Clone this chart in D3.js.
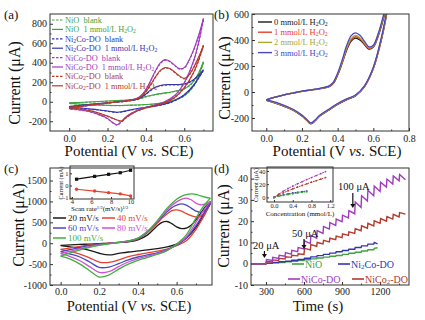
<!DOCTYPE html>
<html><head><meta charset="utf-8">
<script src="https://cdn.jsdelivr.net/npm/d3@7"></script>
<style>body{margin:0;background:#fff}svg{display:block}</style>
</head><body><svg id="c" width="425" height="320"></svg>
<script>
// ---------- DATA ----------
// potential grids (V vs SCE): anodic (forward) and cathodic (reverse) sweeps
const FE = [0,0.05,0.1,0.15,0.2,0.25,0.3,0.35,0.375,0.4,0.425,0.45,0.475,0.5,0.525,0.55,0.575,0.6,0.625,0.65,0.675,0.7];
const RE = [0.7,0.675,0.65,0.6,0.55,0.5,0.45,0.4,0.35,0.3,0.275,0.25,0.225,0.2,0.15,0.1,0.05,0];
// (a) currents, μA
const niO_blank_f = [-15,-10,-5,0,5,10,15,25,35,50,62,72,80,88,95,105,115,130,160,210,290,400];
const niO_blank_r = [400,260,160,60,15,-10,-22,-30,-35,-38,-40,-40,-40,-38,-35,-30,-25,-18];
const niO_h2o2_f = [-12,-7,-2,3,8,13,18,28,38,53,65,75,83,91,98,108,118,134,165,215,295,410];
const niO_h2o2_r = [410,265,165,62,17,-8,-20,-28,-33,-36,-38,-38,-38,-36,-33,-28,-23,-16];
const ni2co_blank_f = [-50,-40,-30,-20,-12,-5,5,20,40,75,115,145,162,170,172,172,172,178,195,225,265,320];
const ni2co_blank_r = [320,240,170,70,10,-25,-45,-60,-75,-95,-105,-110,-105,-98,-85,-75,-65,-55];
const ni2co_h2o2_f = [-48,-38,-28,-18,-10,-3,8,23,44,80,120,150,167,175,177,177,177,183,200,230,272,328];
const ni2co_h2o2_r = [328,245,174,73,13,-22,-42,-57,-72,-92,-102,-107,-102,-95,-82,-72,-62,-52];
const nico_blank_f = [-70,-55,-40,-28,-15,-3,10,30,60,120,210,310,390,425,410,370,335,345,420,530,670,840];
const nico_blank_r = [840,600,420,190,60,0,-35,-60,-95,-150,-200,-240,-215,-175,-130,-100,-85,-75];
const nico_h2o2_f = [-68,-53,-38,-26,-13,-1,12,33,64,126,218,318,398,432,416,376,340,350,428,540,682,855];
const nico_h2o2_r = [855,610,428,195,64,3,-32,-57,-92,-147,-197,-236,-211,-171,-127,-97,-82,-72];
const nico2_blank_f = [-60,-48,-36,-25,-14,-3,8,25,50,100,170,250,315,345,335,300,260,235,270,350,450,570];
const nico2_blank_r = [570,420,300,140,40,-10,-40,-65,-100,-160,-200,-190,-170,-150,-115,-90,-75,-65];
const nico2_h2o2_f = [-58,-46,-34,-23,-12,-1,10,28,54,106,176,256,321,350,340,305,265,240,276,357,458,580];
const nico2_h2o2_r = [580,428,306,144,43,-7,-37,-62,-97,-157,-197,-187,-167,-147,-112,-87,-72,-62];
const legendA = ["NiO  blank","NiO  1 mmol/L H{_2}O{_2}","Ni{_2}Co-DO  blank","Ni{_2}Co-DO  1 mmol/L H{_2}O{_2}","NiCo-DO  blank","NiCo-DO  1 mmol/L H{_2}O{_2}","NiCo{_2}-DO  blank","NiCo{_2}-DO  1 mmol/L H{_2}O{_2}"];
// (b) NiCo-DO in 0-3 mmol/L H2O2, μA
const b0_f = [-60,-40,-22,-8,5,15,25,40,65,130,220,320,390,415,400,365,330,345,420,530,660,800];
const b0_r = [800,600,430,180,40,-30,-60,-95,-140,-185,-220,-245,-215,-185,-140,-110,-85,-65];
const b1_f = [-60,-40,-22,-8,5,15,26,42,68,134,226,328,400,425,410,372,335,350,426,537,668,810];
const b1_r = [810,605,434,183,42,-28,-58,-93,-138,-183,-218,-243,-213,-183,-138,-108,-83,-63];
const b2_f = [-60,-40,-22,-8,5,16,27,43,70,138,232,336,410,435,418,378,340,354,432,544,676,820];
const b2_r = [820,612,440,186,44,-26,-56,-91,-136,-181,-216,-241,-211,-181,-136,-106,-81,-61];
const b3_f = [-60,-40,-22,-8,6,17,28,45,74,145,245,355,432,455,436,392,348,360,440,555,690,840];
const b3_r = [840,625,448,190,47,-23,-53,-88,-133,-178,-213,-238,-208,-178,-133,-103,-78,-58];
const legendB = ["0 mmol/L H{_2}O{_2}","1 mmol/L H{_2}O{_2}","2 mmol/L H{_2}O{_2}","3 mmol/L H{_2}O{_2}"];
// (c) scan-rate CVs, μA
const FEc = [0,0.05,0.1,0.15,0.2,0.25,0.3,0.35,0.4,0.45,0.5,0.525,0.55,0.575,0.6,0.625,0.65,0.675,0.7,0.725,0.75,0.775];
const REc = [0.775,0.75,0.725,0.7,0.65,0.6,0.55,0.5,0.45,0.4,0.35,0.3,0.25,0.2,0.15,0.1,0.05,0];
const c20_f = [-50,-40,-30,-20,-10,0,15,35,80,200,420,500,520,470,390,350,360,430,560,720,880,1000];
const c20_r = [1000,780,560,380,120,-20,-90,-130,-160,-185,-210,-245,-280,-240,-170,-120,-90,-60];
const c40_f = [-150,-110,-75,-45,-20,0,20,45,100,260,480,600,700,780,800,770,710,660,630,650,760,950];
const c40_r = [950,720,520,330,60,-60,-140,-190,-230,-270,-320,-400,-460,-450,-350,-260,-200,-150];
const c60_f = [-200,-150,-100,-60,-30,-5,20,50,110,270,500,630,750,850,910,940,910,840,770,740,800,950];
const c60_r = [950,780,600,420,120,-40,-160,-230,-280,-330,-400,-490,-570,-580,-450,-330,-260,-200];
const c80_f = [-250,-190,-130,-80,-40,-10,20,55,120,280,520,660,790,900,990,1050,1080,1040,960,920,940,1000];
const c80_r = [1000,850,680,500,150,-30,-170,-250,-310,-370,-450,-560,-680,-700,-560,-420,-320,-250];
const c100_f = [-310,-230,-160,-100,-50,-15,20,55,120,290,540,690,830,950,1050,1120,1160,1180,1170,1130,1100,1080];
const c100_r = [1080,950,790,600,200,-20,-180,-270,-340,-410,-500,-620,-760,-810,-660,-500,-380,-310];
const legendC = ["20 mV/s","40 mV/s","60 mV/s","80 mV/s","100 mV/s"];
// (c) inset: peak current (mA) vs sqrt(scan rate)
const sqrtRate = [4.47,6.32,7.75,8.94,10];
const anodicPeak = [0.52,0.75,0.92,1.05,1.25];
const cathodicPeak = [-0.3,-0.45,-0.58,-0.68,-0.85];
// (d) amperometric response, μA
const tLong = [300,350,400,450,500,550,600,650,700,750,800,850,900,950,1000,1050,1100,1150,1200,1250,1300,1350];
const tShort = [300,350,400,450,500,550,600,650,700,750,800,850,900,950,1000,1050,1100,1150];
const nicoLevel = [1.5,2.5,3.5,4.5,5.7,7,9.5,12,14.3,16.3,18,19.8,21.5,23.5,26.5,29.5,32,34,36,37.5,39,40.5];
const nicoPeak = [2,3,4,5.2,6.3,7.6,10.8,13.3,15.6,17.5,19.3,21,22.8,25,29,32,34.5,36.5,38.3,39.8,41.3,42];
const nico2Level = [0.8,1.5,2.2,3,3.7,4.4,6.5,8.2,9.3,10.3,11.3,12.3,13.3,14.3,15.5,16.7,17.8,19,20,21,22,23];
const nico2Peak = [1,1.8,2.5,3.3,4,4.7,7.2,9,10,11,12,13,14,15,16.5,17.8,19,20.2,21.2,22.2,23.2,24];
const ni2coLevel = [0.3,0.6,0.9,1.2,1.6,2,2.6,3.2,3.8,4.4,5,5.6,6.2,6.8,7.6,8.4,9.2,10];
const nioLevel = [0.2,0.4,0.6,0.9,1.2,1.5,1.9,2.3,2.7,3.1,3.5,3.9,4.4,4.9,5.4,6,6.6,7.2];
const endLong = [1400, 39.5], endNico2 = [1400, 23.3], endNi2co = [1180, 9.3], endNio = [1180, 7.5];
const legendD = ["NiO","Ni{_2}Co-DO","NiCo-DO","NiCo{_2}-DO"];
// (d) inset: current vs concentration
const concLong = [0,0.1,0.2,0.3,0.4,0.5,0.6,0.7,0.8,0.9,1.0,1.1];
const concShort = [0,0.1,0.2,0.3,0.4,0.5,0.6,0.7];
const nicoCal = [0,5,9.5,13.5,17,20.5,23.8,27,30,33,36,39];
const nico2Cal = [0,3.8,7,10,12.8,15.5,18,20.5,23,25.3,27.6,30];
const ni2coCal = [0,2,3.8,5.3,6.6,7.7,8.7,9.6];
const nioCal = [0,1.6,3,4.3,5.5,6.6,7.6,8.5];

// ---------- DRAWING ----------
const SERIF = '"Liberation Serif","Times New Roman",serif';
const svg = d3.select('#c');
const COL = {green:'#3fa33f', blue:'#3434b0', purple:'#a03cbc', brown:'#b33a2c',
  black:'#1a1a1a', red:'#e8402c', olive:'#aaa834', bblue:'#4a46c4', magenta:'#d052d0', cgreen:'#3db03d'};
let clipN = 0; const frames = [];

function rich(t, s){
  s.split(/(\{[^}]*\})/).forEach(p=>{
    if(!p) return;
    if(p[0]==='{'){
      const k=p[1], c=p.slice(2,-1);
      const ts=t.append('tspan').text(c);
      if(k==='_') ts.attr('font-size','70%').attr('baseline-shift','-15%');
      else if(k==='^') ts.attr('font-size','65%').attr('baseline-shift','super');
      else if(k==='*') ts.attr('font-style','italic');
    } else t.append('tspan').text(p);
  });
  return t;
}
function txt(x,y,s,o={}){
  const t=svg.append('text').attr('x',x).attr('y',y).attr('font-family',SERIF)
    .attr('font-size',o.fs||10).attr('fill',o.fill||'#111').attr('text-anchor',o.anchor||'start')
    .style('white-space','pre');
  if(o.rot) t.attr('transform',`rotate(${o.rot},${x},${y})`);
  return rich(t,s);
}
function panel(o){
  const x=d3.scaleLinear().domain(o.xd).range([o.L,o.R]);
  const y=d3.scaleLinear().domain(o.yd).range([o.B,o.T]);
  const cid='cl'+(clipN++);
  svg.append('clipPath').attr('id',cid).append('rect').attr('x',o.L).attr('y',o.T).attr('width',o.R-o.L).attr('height',o.B-o.T);
  const g=svg.append('g').attr('font-family',SERIF);
  const tk=o.tk||3, fs=o.fs||10;
  g.append('g').attr('transform',`translate(0,${o.B})`)
    .call(d3.axisBottom(x).tickValues(o.xt).tickSize(-tk).tickPadding(o.xp!=null?o.xp:4).tickFormat(o.xf||d3.format('.1f')));
  g.append('g').attr('transform',`translate(${o.L},0)`)
    .call(d3.axisLeft(y).tickValues(o.yt).tickSize(-tk).tickPadding(o.yp!=null?o.yp:3).tickFormat(o.yf||(d=>d)));
  if(o.xm) g.append('g').attr('transform',`translate(0,${o.B})`).call(d3.axisBottom(x).tickValues(o.xm).tickSize(-tk/2).tickFormat(''));
  if(o.ym) g.append('g').attr('transform',`translate(${o.L},0)`).call(d3.axisLeft(y).tickValues(o.ym).tickSize(-tk/2).tickFormat(''));
  g.selectAll('.domain').remove();
  g.selectAll('g').attr('font-family',SERIF).attr('font-size',fs);
  g.selectAll('.tick text').attr('fill','#222');
  g.selectAll('.tick line').attr('stroke','#333');
  const plot=svg.append('g').attr('clip-path',`url(#${cid})`);
  frames.push(o);
  return {x,y,plot};
}
function cv(p, E1, v1, E2, v2, color, dash, w){
  const line=d3.line().x(d=>p.x(d[0])).y(d=>p.y(d[1])).curve(d3.curveCatmullRom.alpha(0.5));
  [[E1,v1],[E2,v2]].forEach(([E,v])=>{
    p.plot.append('path').attr('d',line(E.map((e,i)=>[e,v[i]]))).attr('fill','none')
      .attr('stroke',color).attr('stroke-width',w||1.2).attr('stroke-dasharray',dash?'2.5,1.5':null);
  });
}

// ----- (a) -----
const A = panel({L:50,R:213,T:14,B:131,xd:[-0.1,0.75],yd:[-300,900],xt:[0,0.2,0.4,0.6],xm:[0.1,0.3,0.5,0.7],
  yt:[-200,0,200,400,600,800],ym:[-100,100,300,500,700]});
const seriesA = [
  [niO_blank_f,niO_blank_r,COL.green,true],[niO_h2o2_f,niO_h2o2_r,COL.green,false],
  [ni2co_blank_f,ni2co_blank_r,COL.blue,true],[ni2co_h2o2_f,ni2co_h2o2_r,COL.blue,false],
  [nico_blank_f,nico_blank_r,COL.purple,true],[nico_h2o2_f,nico_h2o2_r,COL.purple,false],
  [nico2_blank_f,nico2_blank_r,COL.brown,true],[nico2_h2o2_f,nico2_h2o2_r,COL.brown,false]];
seriesA.forEach(s=>cv(A,FE,s[0],RE,s[1],s[2],s[3],1.1));
seriesA.forEach((s,i)=>{
  const yy=20+i*9.4;
  svg.append('line').attr('x1',52).attr('x2',63).attr('y1',yy).attr('y2',yy).attr('stroke',s[2]).attr('stroke-width',1.2).attr('stroke-dasharray',s[3]?'2.5,1.5':null);
  txt(65,yy+3,legendA[i],{fs:8.3,fill:s[2]});
});
txt(4,19,'(a)',{fs:13});
txt(20,83,'Current (μA)',{fs:16,anchor:'middle',rot:-90});
txt(129,156,'Potential (V {*vs.} SCE)',{fs:15,anchor:'middle'});

// ----- (b) -----
const B = panel({L:252,R:409,T:14,B:131,xd:[-0.08,0.8],yd:[-300,600],xt:[0,0.2,0.4,0.6,0.8],xm:[0.1,0.3,0.5,0.7],
  yt:[-200,0,200,400,600],ym:[-100,100,300,500]});
const seriesB = [[b0_f,b0_r,COL.black],[b1_f,b1_r,COL.red],[b2_f,b2_r,COL.olive],[b3_f,b3_r,COL.bblue]];
seriesB.forEach(s=>cv(B,FE,s[0],RE,s[1],s[2],false,1.3));
seriesB.forEach((s,i)=>{
  const yy=22+i*10.2;
  svg.append('line').attr('x1',258).attr('x2',272).attr('y1',yy).attr('y2',yy).attr('stroke',s[2]).attr('stroke-width',1.4);
  txt(274,yy+3,legendB[i],{fs:8.5,fill:s[2]});
});
txt(214,19,'(b)',{fs:13});
txt(230,78,'Current (μA)',{fs:16,anchor:'middle',rot:-90});
txt(337,156,'Potential (V {*vs.} SCE)',{fs:15,anchor:'middle'});

// ----- (c) -----
const C = panel({L:50,R:212,T:168,B:285,xd:[-0.055,0.783],yd:[-1000,1800],xt:[0,0.2,0.4,0.6],xm:[0.1,0.3,0.5,0.7],
  yt:[-1000,-500,0,500,1000,1500],ym:[-750,-250,250,750,1250],xp:2.5});
const seriesC = [[c20_f,c20_r,COL.black],[c40_f,c40_r,COL.red],[c60_f,c60_r,COL.bblue],[c80_f,c80_r,COL.magenta],[c100_f,c100_r,COL.cgreen]];
seriesC.forEach(s=>cv(C,FEc,s[0],REc,s[1],s[2],false,1.3));
const legPosC=[[53,218],[102,218],[53,228],[102,228],[53,238]];
seriesC.forEach((s,i)=>{
  const [lx,ly]=legPosC[i];
  svg.append('line').attr('x1',lx).attr('x2',lx+13).attr('y1',ly).attr('y2',ly).attr('stroke',s[2]).attr('stroke-width',1.5);
  txt(lx+15,ly+3,legendC[i],{fs:9,fill:s[2]});
});
// inset c
const Ci = panel({L:70,R:134,T:166,B:199,xd:[3.8,10.35],yd:[-1.1,1.6],xt:[4,6,8,10],yt:[-1,0,1],xf:d=>d,fs:6.5,tk:2,xp:0,yp:1.5});
const lnC=d3.line().x(d=>Ci.x(d[0])).y(d=>Ci.y(d[1]));
Ci.plot.append('path').attr('d',lnC(sqrtRate.map((v,i)=>[v,anodicPeak[i]]))).attr('stroke','#111').attr('fill','none').attr('stroke-width',1.2);
Ci.plot.append('path').attr('d',lnC(sqrtRate.map((v,i)=>[v,cathodicPeak[i]]))).attr('stroke',COL.red).attr('fill','none').attr('stroke-width',1.2);
Ci.plot.selectAll(null).data(sqrtRate).join('rect').attr('x',(d)=>Ci.x(d)-1.6).attr('y',(d,i)=>Ci.y(anodicPeak[i])-1.6).attr('width',3.2).attr('height',3.2).attr('fill','#111');
Ci.plot.selectAll(null).data(sqrtRate).join('circle').attr('cx',(d)=>Ci.x(d)).attr('cy',(d,i)=>Ci.y(cathodicPeak[i])).attr('r',1.7).attr('fill',COL.red);
txt(63,183,'Current (mA)',{fs:6,anchor:'middle',rot:-90});
txt(71,210.5,'Scan rate{^1/2}(mV/s){^1/2}',{fs:7});
txt(4,173,'(c)',{fs:13});
txt(24,225,'Current (μA)',{fs:16,anchor:'middle',rot:-90});
txt(129,311,'Potential (V {*vs.} SCE)',{fs:14.5,anchor:'middle'});

// ----- (d) -----
const D = panel({L:251,R:409,T:168,B:285,xd:[182,1428],yd:[-10,45],xt:[300,600,900,1200],xm:[450,750,1050,1350],
  yt:[-10,0,10,20,30,40],ym:[-5,5,15,25,35],xf:d=>d,xp:2.5});
function stairs(times, levels, peaks, end){
  const pts=[[182,0],[times[0],0]];
  times.forEach((t,i)=>{
    pts.push([t+4, peaks?peaks[i]:levels[i]]);
    pts.push([i<times.length-1?times[i+1]:end[0], i<times.length-1?levels[i]:end[1]]);
  });
  return pts;
}
const seriesD = [
  [stairs(tShort,nioLevel,null,endNio),COL.green],
  [stairs(tShort,ni2coLevel,null,endNi2co),COL.blue],
  [stairs(tLong,nico2Level,nico2Peak,endNico2),COL.brown],
  [stairs(tLong,nicoLevel,nicoPeak,endLong),COL.purple]];
const lnD=d3.line().x(d=>D.x(d[0])).y(d=>D.y(d[1]));
seriesD.forEach(s=>D.plot.append('path').attr('d',lnD(s[0])).attr('fill','none').attr('stroke',s[1]).attr('stroke-width',1.4));
const legD=[[292,264,COL.green],[338,264,COL.blue],[288,279,COL.purple],[352,279,COL.brown]];
legD.forEach((l,i)=>{
  svg.append('line').attr('x1',l[0]).attr('x2',l[0]+12).attr('y1',l[1]).attr('y2',l[1]).attr('stroke',l[2]).attr('stroke-width',1.6);
  txt(l[0]+13,l[1]+3.5,legendD[i],{fs:10,fill:l[2]});
});
function arrow(x,y1,y2){
  svg.append('line').attr('x1',x).attr('x2',x).attr('y1',y1).attr('y2',y2-3).attr('stroke','#111').attr('stroke-width',1.2);
  svg.append('path').attr('d',`M${x-2.5},${y2-4}L${x+2.5},${y2-4}L${x},${y2}Z`).attr('fill','#111');
}
txt(253,249,'20 μA',{fs:10.5}); arrow(D.x(288),251,258);
txt(292,237,'50 μA',{fs:10.5}); arrow(D.x(600),239,249);
txt(338,190,'100 μA',{fs:10.5}); arrow(D.x(985),193,208);
// inset d
const Di = panel({L:267,R:333,T:167,B:202,xd:[-0.15,1.26],yd:[-7,46],xt:[0,0.4,0.8,1.2],yt:[0,20,40],fs:6.5,tk:2,xp:1,yp:1.5});
const lnDi=d3.line().x(d=>Di.x(d[0])).y(d=>Di.y(d[1]));
[[concLong,nicoCal,COL.purple],[concLong,nico2Cal,COL.brown],[concShort,ni2coCal,COL.blue],[concShort,nioCal,COL.green]].forEach(s=>{
  Di.plot.append('path').attr('d',lnDi(s[0].map((c,i)=>[c,s[1][i]]))).attr('fill','none').attr('stroke',s[2]).attr('stroke-width',1).attr('stroke-dasharray','2,1');
  Di.plot.selectAll(null).data(s[0]).join('circle').attr('cx',d=>Di.x(d)).attr('cy',(d,i)=>Di.y(s[1][i])).attr('r',0.9).attr('fill',s[2]);
});
txt(258,185,'Current (μA)',{fs:6.5,anchor:'middle',rot:-90});
txt(300,216,'Concentration (mmol/L)',{fs:7,anchor:'middle'});
txt(214,173,'(d)',{fs:13});
txt(229,226,'Current (μA)',{fs:16,anchor:'middle',rot:-90});
txt(318,311,'Time (s)',{fs:15,anchor:'middle'});

// frames on top
frames.forEach(o=>svg.append('rect').attr('x',o.L).attr('y',o.T).attr('width',o.R-o.L).attr('height',o.B-o.T)
  .attr('fill','none').attr('stroke','#333').attr('stroke-width',1));
</script></body></html>
